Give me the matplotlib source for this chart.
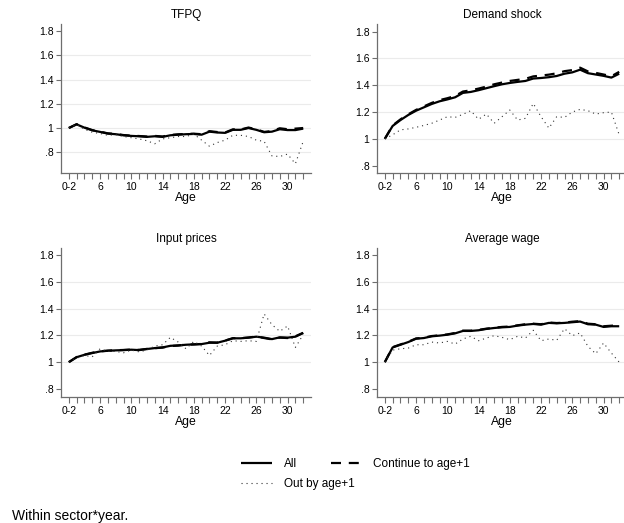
#!/usr/bin/env python3
"""
Four-panel age profiles (TFPQ, demand shock, input prices, average wage)
for all plants, plants that continue to age+1 and plants that exit.
"""

import matplotlib

matplotlib.use("Agg")
import matplotlib.pyplot as plt
from matplotlib.lines import Line2D

plt.rcParams["font.family"] = ["Liberation Sans", "DejaVu Sans"]

# ---- data ----
ages = list(range(2, 33))
tick_pos = [2, 6, 10, 14, 18, 22, 26, 30]
tick_labels = ["0-2", "6", "10", "14", "18", "22", "26", "30"]
ytick_pos = [0.8, 1.0, 1.2, 1.4, 1.6, 1.8]
ytick_labels = [".8", "1", "1.2", "1.4", "1.6", "1.8"]

tfpq_all = [1.00, 1.03, 1.003, 0.981, 0.968, 0.954, 0.949, 0.940, 0.935, 0.932,
            0.927, 0.932, 0.927, 0.940, 0.945, 0.949, 0.951, 0.945, 0.970, 0.963,
            0.960, 0.985, 0.985, 1.000, 0.985, 0.965, 0.970, 0.990, 0.983, 0.983, 0.995]
tfpq_cont = [1.00, 1.032, 1.005, 0.983, 0.970, 0.956, 0.951, 0.942, 0.937, 0.934,
             0.930, 0.935, 0.930, 0.943, 0.948, 0.951, 0.953, 0.949, 0.974, 0.967,
             0.963, 0.989, 0.988, 1.004, 0.989, 0.968, 0.975, 0.998, 0.990, 0.995, 1.000]
tfpq_out = [1.00, 1.03, 0.99, 0.965, 0.955, 0.940, 0.945, 0.930, 0.920, 0.910,
            0.895, 0.870, 0.910, 0.920, 0.930, 0.930, 0.950, 0.900, 0.850, 0.880,
            0.900, 0.940, 0.940, 0.930, 0.900, 0.890, 0.770, 0.765, 0.785, 0.705, 0.890]

demand_all = [1.00, 1.096, 1.14, 1.178, 1.21, 1.235, 1.26, 1.28, 1.294, 1.31,
              1.343, 1.35, 1.363, 1.378, 1.393, 1.407, 1.417, 1.425, 1.432, 1.45,
              1.454, 1.46, 1.469, 1.486, 1.496, 1.516, 1.49, 1.48, 1.47, 1.457, 1.486]
demand_cont = [1.00, 1.10, 1.145, 1.183, 1.216, 1.242, 1.268, 1.289, 1.303, 1.32,
               1.353, 1.362, 1.375, 1.39, 1.407, 1.42, 1.432, 1.44, 1.448, 1.466,
               1.472, 1.479, 1.489, 1.505, 1.513, 1.531, 1.503, 1.492, 1.48, 1.467, 1.50]
demand_out = [1.00, 1.03, 1.067, 1.074, 1.086, 1.10, 1.116, 1.14, 1.165, 1.16,
              1.183, 1.21, 1.146, 1.185, 1.116, 1.165, 1.215, 1.14, 1.153, 1.264,
              1.165, 1.08, 1.165, 1.16, 1.20, 1.22, 1.21, 1.185, 1.195, 1.20, 1.03]

input_all = [1.00, 1.037, 1.055, 1.068, 1.08, 1.085, 1.088, 1.09, 1.093, 1.09,
             1.098, 1.105, 1.11, 1.122, 1.125, 1.13, 1.133, 1.135, 1.145, 1.145,
             1.16, 1.178, 1.178, 1.183, 1.19, 1.183, 1.172, 1.185, 1.183, 1.19, 1.218]
input_cont = [1.00, 1.038, 1.056, 1.07, 1.081, 1.086, 1.089, 1.091, 1.094, 1.092,
              1.099, 1.104, 1.109, 1.12, 1.124, 1.131, 1.132, 1.136, 1.148, 1.146,
              1.161, 1.179, 1.179, 1.184, 1.191, 1.18, 1.17, 1.183, 1.18, 1.193, 1.219]
input_out = [1.00, 1.03, 1.05, 1.04, 1.10, 1.08, 1.08, 1.07, 1.09, 1.077,
             1.09, 1.12, 1.13, 1.185, 1.15, 1.10, 1.155, 1.12, 1.05, 1.12,
             1.13, 1.16, 1.155, 1.16, 1.155, 1.36, 1.28, 1.23, 1.27, 1.11, 1.205]

wage_all = [1.00, 1.11, 1.13, 1.15, 1.175, 1.18, 1.193, 1.198, 1.205, 1.215,
            1.233, 1.233, 1.238, 1.248, 1.255, 1.26, 1.263, 1.273, 1.28, 1.285,
            1.28, 1.293, 1.29, 1.293, 1.298, 1.303, 1.283, 1.28, 1.263, 1.268, 1.268]
wage_cont = [1.00, 1.112, 1.132, 1.152, 1.177, 1.182, 1.195, 1.2, 1.207, 1.218,
             1.235, 1.235, 1.241, 1.25, 1.257, 1.263, 1.266, 1.275, 1.283, 1.287,
             1.283, 1.296, 1.292, 1.295, 1.302, 1.306, 1.287, 1.283, 1.268, 1.272, 1.276]
wage_out = [1.00, 1.09, 1.10, 1.105, 1.13, 1.13, 1.15, 1.143, 1.155, 1.135,
            1.173, 1.193, 1.16, 1.18, 1.198, 1.185, 1.168, 1.193, 1.18, 1.238,
            1.16, 1.173, 1.163, 1.25, 1.198, 1.218, 1.118, 1.063, 1.143, 1.068, 1.00]

panels = [
    ("TFPQ", tfpq_all, tfpq_cont, tfpq_out, (0.629, 1.858), [0.8, 1.0, 1.2, 1.4, 1.6]),
    ("Demand shock", demand_all, demand_cont, demand_out, (0.745, 1.857), [1.0, 1.2, 1.4, 1.6]),
    ("Input prices", input_all, input_cont, input_out, (0.74, 1.852), [1.0, 1.2, 1.4, 1.6]),
    ("Average wage", wage_all, wage_cont, wage_out, (0.74, 1.852), [1.0, 1.2, 1.4, 1.6]),
]

W, H = 624, 523
# axes boxes in pixels: left, top, right, bottom
boxes = [(61, 24, 311, 173), (377, 24, 627, 173),
         (61, 248, 311, 397), (377, 248, 627, 397)]

solid_kw = dict(color="black", lw=1.6, solid_capstyle="butt")
dash_kw = dict(color="black", lw=1.6, linestyle=(0, (4.5, 3.5)))
dot_kw = dict(color="#333333", lw=0.8, linestyle=(0, (1, 3.5)))
axis_gray = "#6e6e6e"

fig = plt.figure(figsize=(W / 100, H / 100), dpi=100)

for (title, s_all, s_cont, s_out, ylim, grid_vals), (l, t, r, b) in zip(panels, boxes):
    ax = fig.add_axes([l / W, 1 - b / H, (r - l) / W, (b - t) / H])
    for g in grid_vals:
        ax.axhline(g, color="#ebebeb", lw=0.8, zorder=0)
    ax.plot(ages, s_all, **solid_kw)
    ax.plot(ages, s_cont, **dash_kw)
    ax.plot(ages, s_out, **dot_kw)

    ax.set_xlim(1, 33)
    ax.set_ylim(*ylim)
    ax.set_xticks(ages, minor=False)
    ax.set_xticklabels([tick_labels[tick_pos.index(a)] if a in tick_pos else "" for a in ages])
    ax.set_yticks(ytick_pos)
    ax.set_yticklabels(ytick_labels)
    ax.tick_params(axis="x", length=4, width=0.8, color=axis_gray, labelsize=7.5, pad=2.5)
    ax.tick_params(axis="y", length=3.5, width=0.8, color=axis_gray, labelsize=7.5, pad=2)
    for side in ("top", "right"):
        ax.spines[side].set_visible(False)
    for side in ("left", "bottom"):
        ax.spines[side].set_color(axis_gray)
        ax.spines[side].set_linewidth(0.9)
    ax.set_title(title, fontsize=8.5, pad=4)
    ax.set_xlabel("Age", fontsize=8.8, labelpad=0)

h_all = Line2D([], [], **solid_kw)
h_cont = Line2D([], [], **dash_kw)
h_out = Line2D([], [], **dot_kw)

leg_kw = dict(frameon=False, loc="center left", borderpad=0, borderaxespad=0,
              handlelength=2.6, handletextpad=1.0, fontsize=8.5)
fig.legend([h_all, h_cont], ["All", "Continue to age+1"], ncol=2,
           columnspacing=2.9, bbox_to_anchor=(241 / W, 1 - 464 / H), **leg_kw)
fig.legend([h_out], ["Out by age+1"],
           bbox_to_anchor=(241 / W, 1 - 484 / H), **leg_kw)

fig.text(12 / W, 1 - 516 / H, "Within sector*year.", fontsize=10, va="center", ha="left")

fig.savefig("out.png", dpi=100, facecolor="white")
